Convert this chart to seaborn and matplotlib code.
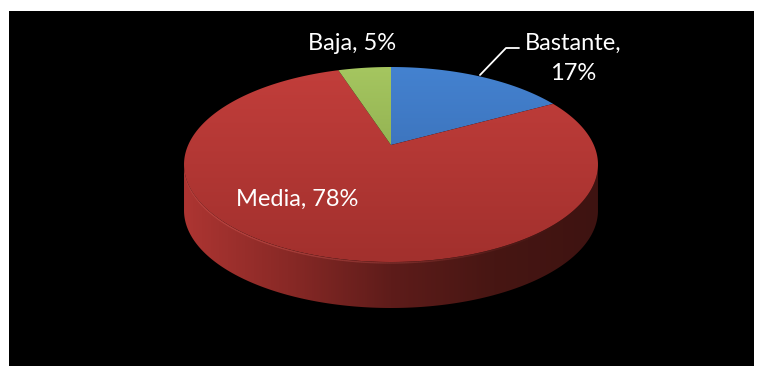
import numpy as np
import matplotlib
matplotlib.use("Agg")
import matplotlib.pyplot as plt
from matplotlib.patches import Polygon, Rectangle
from matplotlib.collections import LineCollection
from matplotlib.colors import to_rgba
import seaborn as sns

# Data
categories = ["Bastante", "Media", "Baja"]
shares = [17, 78, 5]

# Top-face colours (light -> dark) for each slice, and the side-wall shading
top_shades = [("#4482d0", "#3363a6"), ("#c23e3b", "#a2302d"), ("#a5c660", "#7c9940")]
side_shades = ["#ad3532", "#892926", "#5e1c1a", "#471613", "#3e1311"]

sns.set_theme(style="white")
plt.rcParams["font.family"] = ["Lato", "DejaVu Sans"]

W, H = 761, 366
fig = plt.figure(figsize=(W / 100, H / 100), dpi=100)
fig.patch.set_facecolor("white")
ax = fig.add_axes([0, 0, 1, 1])
ax.axis("off")
ax.add_patch(Rectangle((9, 11), 745, 360, facecolor="black", edgecolor="none", zorder=0))

# Disc seen in perspective: centre of the disc, tilt and scales
cx, apex_y = 391, 145
tilt = 0.2
sx, sy = 202.8, 93.6
depth = 46


def project(theta, dy=0.0):
    """Map angles on the unit circle to the perspective view of the disc."""
    x, y = np.cos(theta), np.sin(theta)
    d = 1 + tilt * y
    return np.column_stack([cx + sx * x / d, apex_y - sy * y / d + dy])


# Outline of the projected top face is an ellipse
ecy = apex_y + sy * tilt / (1 - tilt ** 2)
ea = sx / np.sqrt(1 - tilt ** 2)
eb = sy / (1 - tilt ** 2)


def outline(t, dy=0.0):
    return np.column_stack([cx + ea * np.cos(t), ecy - eb * np.sin(t) + dy])


def gradient_patch(xy, colors, direction, extent, zorder):
    poly = Polygon(xy, closed=True, facecolor="none", edgecolor="none", zorder=zorder)
    ax.add_patch(poly)
    cmap = sns.blend_palette(colors, as_cmap=True)
    ramp = np.linspace(0, 1, 256)
    grad = ramp[None, :] if direction == "h" else ramp[:, None]
    im = ax.imshow(grad, cmap=cmap, extent=extent, aspect="auto",
                   zorder=zorder, interpolation="bilinear")
    im.set_clip_path(poly)


# Side wall (front half of the disc)
t_front = np.linspace(np.pi, 2 * np.pi, 300)
wall = np.vstack([outline(t_front), outline(t_front[::-1], depth)])
gradient_patch(wall, side_shades, "h",
               (cx - ea, cx + ea, ecy + eb + depth, ecy), zorder=1)

# Top face: slices run clockwise from 12 o'clock
fracs = np.array(shares, dtype=float) / sum(shares)
start = np.pi / 2
top_extent = (cx - ea, cx + ea, ecy + eb, ecy - eb)
for frac, shade in zip(fracs, top_shades):
    end = start - frac * 2 * np.pi
    t = np.linspace(start, end, max(int(abs(end - start) * 80), 8))
    wedge = np.vstack([[cx, apex_y], project(t)])
    gradient_patch(wedge, list(shade), "v", top_extent, zorder=2)
    start = end

# Soft bevel highlight along the front rim of the top face, fading to the right
rim = outline(np.linspace(np.pi * 1.01, np.pi * 1.8, 240))
rim[:, 1] += 1
segs = np.stack([rim[:-1], rim[1:]], axis=1)
fade = np.sin(np.linspace(0, np.pi, len(segs))) ** 0.6 * np.linspace(1, 0.1, len(segs))
base = np.array(to_rgba("#dc625d"))
rim_colors = np.tile(base, (len(segs), 1))
rim_colors[:, 3] = 0.6 * fade
ax.add_collection(LineCollection(segs, colors=rim_colors, linewidths=1.0, zorder=3))

# Data labels
txt = dict(color="white", fontsize=17, ha="center", va="center", zorder=5)
ax.text(573, 43, f"{categories[0]},", **txt)
ax.text(573, 73, f"{shares[0]}%", **txt)
ax.text(297, 199, f"{categories[1]}, {shares[1]}%", **txt)
ax.text(352, 43, f"{categories[2]}, {shares[2]}%", **txt)
ax.plot([480, 506, 519], [75, 48, 48], color="white", lw=1.3, zorder=5)

ax.set_xlim(0, W)
ax.set_ylim(H, 0)
fig.savefig("out.png", dpi=100, facecolor="white")
